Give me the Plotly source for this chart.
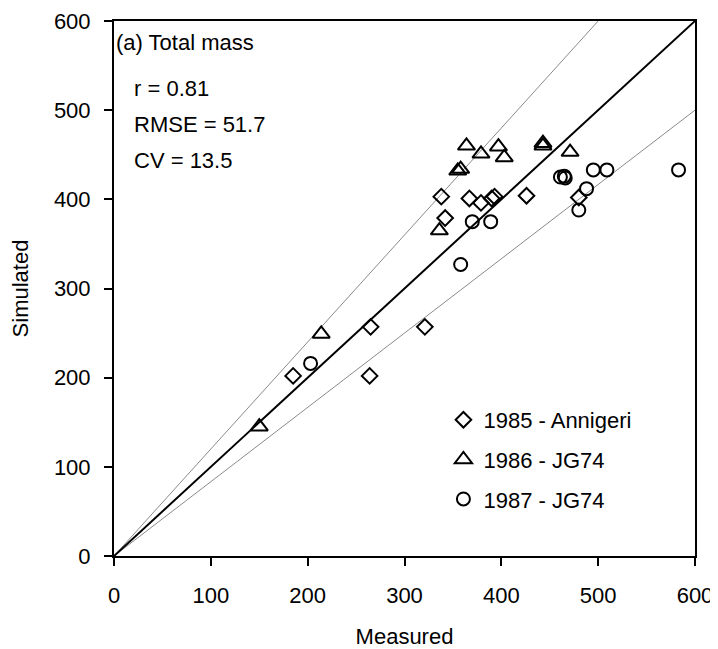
import plotly.graph_objects as go

# Measured (x) and simulated (y) total mass
x_1985 = [185, 264, 265, 321, 338, 342, 367, 379, 390, 393, 426, 480]
y_1985 = [202, 202, 257, 257, 403, 379, 401, 396, 401, 403, 404, 402]

x_1986 = [150, 214, 336, 355, 358, 364, 379, 397, 403, 443, 443, 471]
y_1986 = [145, 249, 365, 432, 434, 460, 451, 459, 447, 463, 460, 453]

x_1987 = [203, 358, 370, 389, 461, 465, 466, 480, 488, 495, 509, 583]
y_1987 = [216, 327, 375, 375, 425, 426, 424, 388, 412, 433, 433, 433]

series_names = ["1985 - Annigeri", "1986 - JG74", "1987 - JG74"]
stats_text = ["r = 0.81", "RMSE = 51.7", "CV = 13.5"]
panel_title = "(a) Total mass"

one_to_one = [0, 600]
upper_x = [0, 500]
upper_y = [0, 600]
lower_x = [0, 600]
lower_y = [0, 500]

ticks = [0, 100, 200, 300, 400, 500, 600]

FONT = "Arial, Liberation Sans, sans-serif"
FS = 22

fig = go.Figure()

fig.add_trace(go.Scatter(x=upper_x, y=upper_y, mode="lines",
                         line=dict(color="#8a8a8a", width=1),
                         showlegend=False, hoverinfo="skip"))
fig.add_trace(go.Scatter(x=lower_x, y=lower_y, mode="lines",
                         line=dict(color="#8a8a8a", width=1),
                         showlegend=False, hoverinfo="skip"))
fig.add_trace(go.Scatter(x=one_to_one, y=one_to_one, mode="lines",
                         line=dict(color="black", width=2),
                         showlegend=False, hoverinfo="skip"))

fig.add_trace(go.Scatter(x=x_1985, y=y_1985, mode="markers", name=series_names[0],
                         legendgroup="a",
                         marker=dict(symbol="diamond-open", size=12, color="black",
                                     line=dict(width=2, color="black"))))
fig.add_trace(go.Scatter(x=x_1986, y=y_1986, mode="markers", name=series_names[1],
                         legendgroup="b",
                         marker=dict(symbol="triangle-up-open", size=15, color="black",
                                     line=dict(width=2, color="black"))))
fig.add_trace(go.Scatter(x=x_1987, y=y_1987, mode="markers", name=series_names[2],
                         legendgroup="c",
                         marker=dict(symbol="circle-open", size=13, color="black",
                                     line=dict(width=2, color="black"))))

axis_common = dict(
    range=[0, 600], tickvals=ticks, ticktext=[str(t) for t in ticks],
    showline=True, linecolor="black", linewidth=2, mirror=True,
    ticks="outside", ticklen=8, tickwidth=2, tickcolor="black",
    showgrid=False, zeroline=False, automargin=False,
    tickfont=dict(family=FONT, size=FS, color="black"),
)

fig.update_layout(
    width=710, height=641,
    margin=dict(l=106, r=23, t=13, b=93),
    paper_bgcolor="white", plot_bgcolor="white",
    font=dict(family=FONT, size=FS, color="black"),
    xaxis=dict(**axis_common, ticklabelstandoff=11,
               title=dict(text="Measured", standoff=23,
                          font=dict(family=FONT, size=FS, color="black"))),
    yaxis=dict(**axis_common, ticklabelstandoff=9,
               title=dict(text="Simulated", standoff=19,
                          font=dict(family=FONT, size=FS, color="black"))),
    legend=dict(x=0.567, y=0.2935, xanchor="left", yanchor="top",
                bgcolor="rgba(0,0,0,0)", borderwidth=0,
                traceorder="grouped", tracegroupgap=8,
                itemwidth=30,
                font=dict(family=FONT, size=FS, color="black")),
    showlegend=True,
)

fig.add_annotation(x=0.0, y=0.959, xref="paper", yref="paper",
                   text=panel_title, showarrow=False, xanchor="left", yanchor="middle",
                   font=dict(family=FONT, size=FS, color="black"))
stat_y = [0.873, 0.806, 0.739]
for txt, yy in zip(stats_text, stat_y):
    fig.add_annotation(x=0.031, y=yy, xref="paper", yref="paper",
                       text=txt, showarrow=False, xanchor="left", yanchor="middle",
                       font=dict(family=FONT, size=FS, color="black"))

fig.write_html("out.html")
